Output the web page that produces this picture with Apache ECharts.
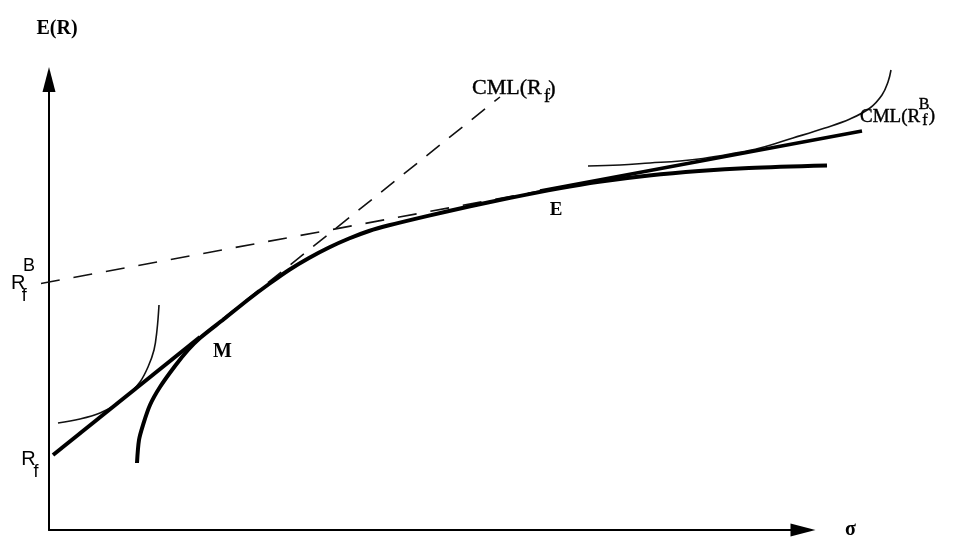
<!DOCTYPE html>
<html><head><meta charset="utf-8">
<script src="https://cdn.jsdelivr.net/npm/echarts@6/dist/echarts.min.js"></script>
<style>html,body{margin:0;padding:0;background:#fff}#c{width:954px;height:540px}</style>
</head><body><div id="c"></div>
<script>
// Efficient frontier (thick curve)
const frontierSigma  = [8.8, 9.0, 9.4, 10.1, 11.1, 12.6, 13.9, 15.1, 17.5, 20, 22, 24, 26, 28, 30, 32, 34, 38, 42, 46, 50.9, 55, 60, 65, 70, 77.8];
const frontierReturn = [6.8, 9.1, 10.6, 12.6, 14.4, 16.5, 18.1, 19.3, 21.2, 23.2, 24.7, 26.1, 27.3, 28.35, 29.25, 30.0, 30.57, 31.54, 32.45, 33.29, 34.24, 34.92, 35.55, 36.0, 36.3, 36.55];
// CML(Rf): solid part up to M, dashed beyond
const cmlRfSolidSigma  = [0.4, 15.1];
const cmlRfSolidReturn = [7.6, 19.4];
const cmlRfDashSigma   = [15.1, 45.1];
const cmlRfDashReturn  = [19.4, 43.4];
// CML(Rf^B): dashed up to E, solid beyond
const cmlRfBDashSigma   = [-0.8, 49.1];
const cmlRfBDashReturn  = [24.75, 34.0];
const cmlRfBSolidSigma  = [49.1, 81.3];
const cmlRfBSolidReturn = [34.0, 40.0];
// Indifference curves (thin)
const indiffLeftSigma   = [0.9, 3.1, 5.1, 6.8, 8.1, 9.1, 9.9, 10.5, 10.8, 11.0];
const indiffLeftReturn  = [10.8, 11.2, 11.8, 12.7, 13.8, 14.9, 16.4, 18.1, 20.1, 22.6];
const indiffRightSigma  = [53.9, 57.1, 60.1, 63.1, 65.4, 68.1, 71.1, 74.4, 77.6, 80.1, 82.1, 83.3, 83.9, 84.2];
const indiffRightReturn = [36.5, 36.6, 36.8, 37.0, 37.25, 37.7, 38.3, 39.3, 40.3, 41.2, 42.3, 43.6, 44.9, 46.1];
// Annotations
const noteText   = ['M', 'E', 'R', 'f', 'R', 'f', 'B', 'CML(R', 'f', ')', 'CML(R', 'f', 'B', ')'];
const noteSigma  = [17.35, 50.7, -2.05, -1.3, -3.07, -2.48, -2.0, 42.3, 49.8, 50.3, 81.1, 87.6, 87.5, 88.3];
const noteReturn = [17.93, 32.1, 7.15, 5.85, 24.75, 23.5, 26.45, 44.25, 43.35, 44.2, 41.43, 41.03, 42.6, 41.5];
const noteKind   = ['boldBig', 'bold', 'sans', 'sansSub', 'sans', 'sansSub', 'sansSub', 'serifTop', 'serifTopSub', 'serifTopP', 'serifRight', 'serifSub', 'serifSub', 'serifRightP'];

const zip = (a, b) => a.map((v, i) => [v, b[i]]);
const dark = {textBorderColor: '#000', textBorderWidth: 0.4};
const kinds = {
  boldBig:    {fontFamily: 'Liberation Serif', fontWeight: 'bold', fontSize: 20},
  bold:       {fontFamily: 'Liberation Serif', fontWeight: 'bold', fontSize: 19},
  sans:       {fontFamily: 'Liberation Sans', fontSize: 20},
  sansSub:    {fontFamily: 'Liberation Sans', fontSize: 18},
  serifTop:   Object.assign({fontFamily: 'Liberation Serif', fontSize: 22, align: 'left'}, dark),
  serifTopP:  Object.assign({fontFamily: 'Liberation Serif', fontSize: 22}, dark),
  serifTopSub:Object.assign({fontFamily: 'Liberation Serif', fontSize: 18}, dark),
  serifRight: Object.assign({fontFamily: 'Liberation Serif', fontSize: 19, align: 'left'}, dark),
  serifRightP:Object.assign({fontFamily: 'Liberation Serif', fontSize: 19}, dark),
  serifSub:   Object.assign({fontFamily: 'Liberation Serif', fontSize: 16}, dark)
};

function lineSeries(name, xs, ys, style) {
  return {
    name: name, type: 'line', data: zip(xs, ys), symbol: 'none',
    xAxisIndex: 0, yAxisIndex: 0,
    smooth: style.smooth || false, silent: true,
    lineStyle: {color: style.color || '#000', width: style.width, type: style.type || 'solid', opacity: 1},
    z: style.z || 2
  };
}

const hidden = {show: false};
const chart = echarts.init(document.getElementById('c'), null, {renderer: 'canvas'});
chart.setOption({
  animation: false,
  backgroundColor: '#fff',
  grid: [
    // data grid: same scale as the visible axes (10 px per unit), covering the whole canvas
    {left: 0, right: 0, top: 11, bottom: 0, containLabel: false},
    // grid holding the visible arrow axes
    {left: 49, right: 151, top: 79.5, bottom: 9, containLabel: false}
  ],
  xAxis: [
    {type: 'value', gridIndex: 0, min: -4.9, max: 90.5, show: false, splitLine: hidden},
    {
      type: 'value', gridIndex: 1, min: 0, max: 75.4,
      name: 'σ', nameLocation: 'end', nameGap: 42,
      nameTextStyle: {fontFamily: 'Liberation Serif', fontWeight: 'bold', fontSize: 20, color: '#000', padding: [10, 0, 0, 0]},
      axisLine: {show: true, onZero: false, symbol: ['none', 'triangle'], symbolSize: [13, 25], lineStyle: {color: '#000', width: 2}},
      axisTick: hidden, axisLabel: hidden, splitLine: hidden
    }
  ],
  yAxis: [
    {type: 'value', gridIndex: 0, min: -0.9, max: 52, show: false, splitLine: hidden},
    {
      type: 'value', gridIndex: 1, min: 0, max: 45.15,
      name: 'E(R)', nameLocation: 'end', nameGap: 41,
      nameTextStyle: {fontFamily: 'Liberation Serif', fontWeight: 'bold', fontSize: 20, color: '#000', padding: [0, 0, 0, 16]},
      axisLine: {show: true, onZero: false, symbol: ['none', 'triangle'], symbolSize: [13, 25], lineStyle: {color: '#000', width: 2}},
      axisTick: hidden, axisLabel: hidden, splitLine: hidden
    }
  ],
  series: [
    lineSeries('Indifference (left)', indiffLeftSigma, indiffLeftReturn, {width: 1.6, smooth: 0.4, color: '#111'}),
    lineSeries('Indifference (right)', indiffRightSigma, indiffRightReturn, {width: 1.6, smooth: 0.4, color: '#111'}),
    lineSeries('CML(Rf) dashed', cmlRfDashSigma, cmlRfDashReturn, {width: 1.6, type: [17, 12], color: '#111'}),
    lineSeries('CML(RfB) dashed', cmlRfBDashSigma, cmlRfBDashReturn, {width: 1.6, type: [19, 14], color: '#111'}),
    lineSeries('Frontier', frontierSigma, frontierReturn, {width: 4, smooth: 0.3, z: 3}),
    lineSeries('CML(Rf)', cmlRfSolidSigma, cmlRfSolidReturn, {width: 4, z: 3}),
    lineSeries('CML(RfB)', cmlRfBSolidSigma, cmlRfBSolidReturn, {width: 3.5, z: 3}),
    {
      name: 'Notes', type: 'scatter', symbolSize: 0, silent: true, z: 5,
      xAxisIndex: 0, yAxisIndex: 0,
      itemStyle: {opacity: 1, color: '#000'},
      data: noteText.map((t, i) => ({
        value: [noteSigma[i], noteReturn[i]],
        label: Object.assign({
          show: true, position: 'inside', formatter: t, color: '#000', opacity: 1,
          textBorderWidth: 0, align: 'center', verticalAlign: 'middle'
        }, kinds[noteKind[i]])
      }))
    }
  ]
});
</script>
</body></html>
